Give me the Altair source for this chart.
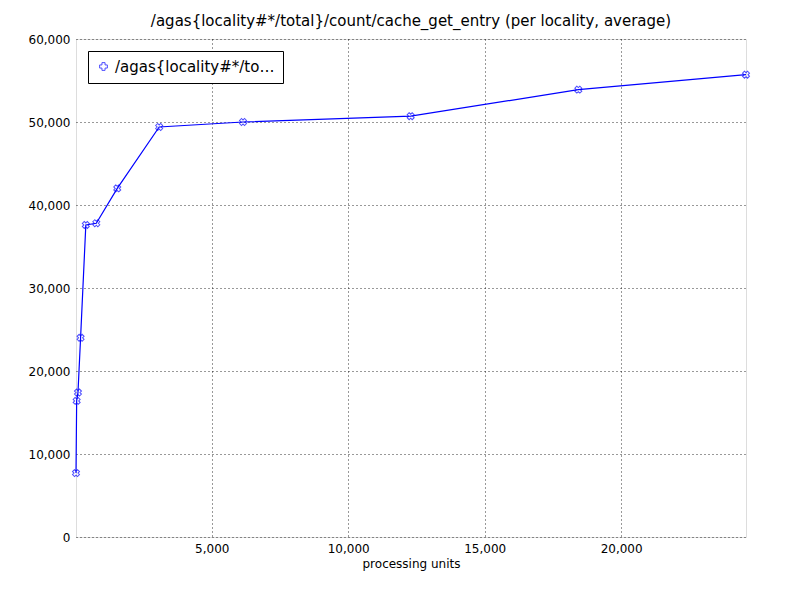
import altair as alt
import pandas as pd

units = [24, 48, 96, 192, 384, 768, 1536, 3072, 6144, 12288, 18432, 24576]
counts = [7700, 16400, 17400, 24000, 37600, 37800, 42000, 49400, 50000, 50700, 53900, 55700]
series_name = "/agas{locality#*/total}/count/cache_get_entry"

df = pd.DataFrame({"units": units, "count": counts, "series": series_name})

font = "DejaVu Sans"
base = alt.Chart(df).encode(
    x=alt.X("units:Q", title="processing units",
            scale=alt.Scale(domain=[24, 24576], nice=False, zero=False),
            axis=alt.Axis(values=[5000, 10000, 15000, 20000], grid=True, gridDash=[1, 3],
                          gridColor="black", gridOpacity=0.8, ticks=False,
                          domain=False, labelPadding=6, labelFontSize=12, titleFontSize=12,
                          labelFont=font, titleFont=font, titleFontWeight="normal",
                          labelColor="black", titleColor="black")),
    y=alt.Y("count:Q", title=None,
            scale=alt.Scale(domain=[0, 60000], nice=False),
            axis=alt.Axis(values=list(range(0, 60001, 10000)), grid=True, gridDash=[1, 3],
                          gridColor="black", gridOpacity=0.8, ticks=False,
                          domain=False, labelPadding=6, labelFontSize=12, labelFont=font,
                          labelColor="black")),
)

line = base.mark_line(color="blue", strokeWidth=1.2)
pts = base.mark_point(shape="cross", angle=45, color="blue", size=50, strokeWidth=1).encode(
    color=alt.Color("series:N", scale=alt.Scale(range=["blue"]),
                    legend=alt.Legend(title=None, orient="none", legendX=12, legendY=12,
                                      symbolType="cross", symbolSize=60, symbolStrokeWidth=1,
                                      labelFontSize=15, labelFont=font, labelColor="black",
                                      strokeColor="black", padding=8, fillColor="white",
                                      cornerRadius=0))
)

chart = (line + pts).properties(
    width=670, height=498,
    title=alt.TitleParams("/agas{locality#*/total}/count/cache_get_entry (per locality, average)",
                          fontSize=15, font=font, fontWeight="normal", color="black", offset=4),
).configure_view(stroke="black", strokeWidth=1).configure(
    padding={"left": 20, "top": 6, "right": 40, "bottom": 10}
)

chart.save("out.html", embed_options={"renderer": "svg", "actions": False})
